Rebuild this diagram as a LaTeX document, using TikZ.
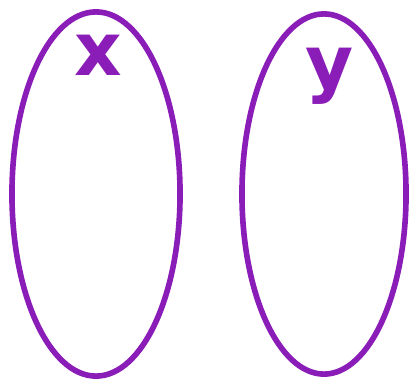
\documentclass[tikz,border=0pt]{standalone}
\usepackage{fontspec}
\setsansfont{DejaVu Sans}
\usetikzlibrary{shapes.geometric}
\definecolor{setpurple}{HTML}{8A1CB8}
\tikzset{
    set/.style={draw=setpurple, line width=1.6pt, ellipse, inner sep=0pt},
    letter/.style={text=setpurple, anchor=base, font=\sffamily\bfseries\fontsize{21}{21}\selectfont}
}

\begin{document}
\begin{tikzpicture}[x=0.01cm, y=-0.01cm]
    \useasboundingbox (0,0) rectangle (413,385);
    \node[set, minimum width=1.68cm, minimum height=3.64cm] (setx) at (96,194) {};
    \node[set, minimum width=1.64cm, minimum height=3.60cm] (sety) at (324,194) {};
    \node[letter] (labx) at (98,75) {x};
    \node[letter] (laby) at (330,88) {y};
\end{tikzpicture}
\end{document}
